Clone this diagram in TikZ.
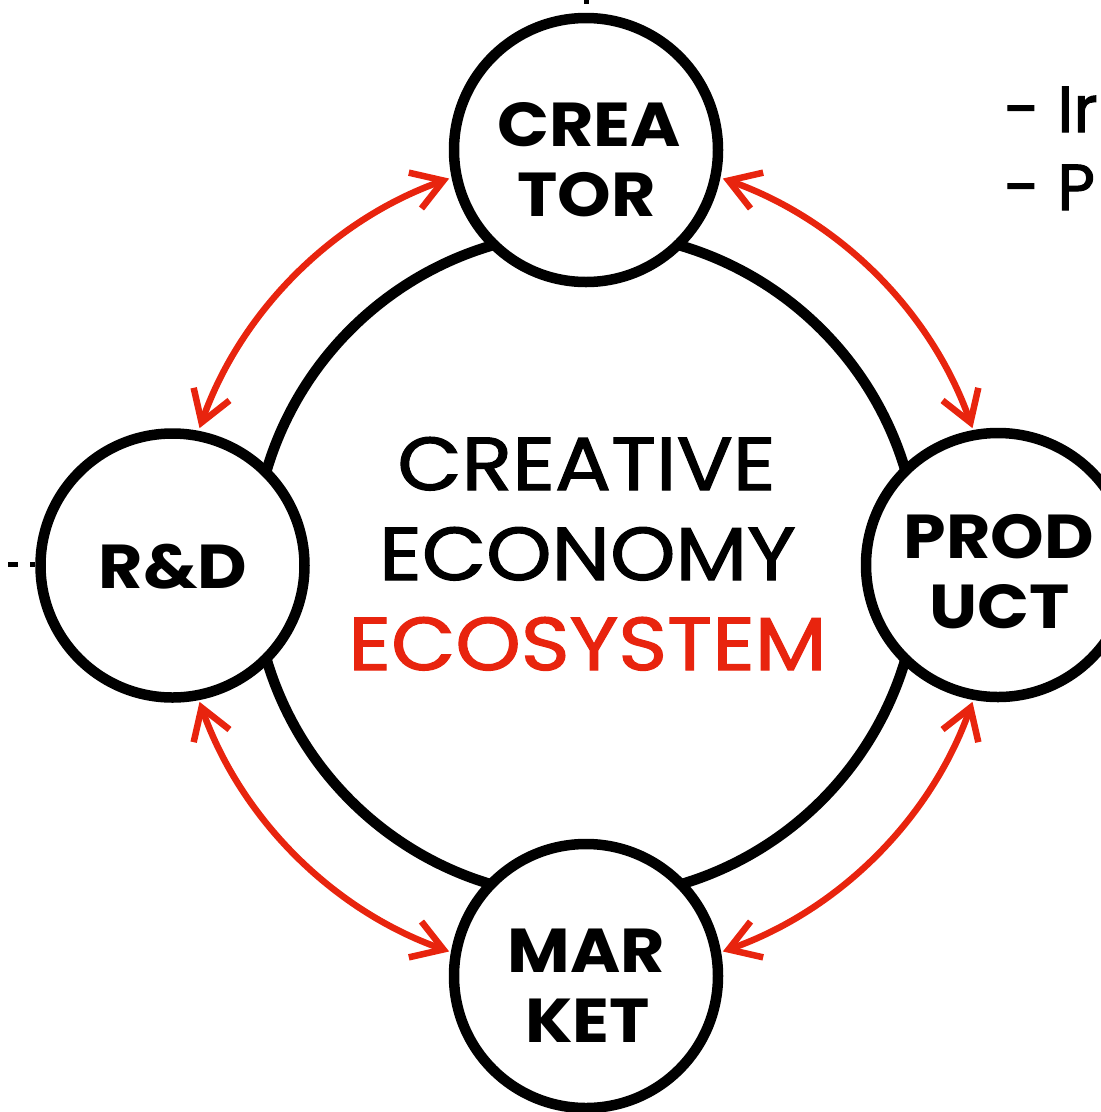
\documentclass[tikz,border=0pt]{standalone}
\usepackage{fontspec}
\setmainfont{Poppins}[FakeStretch=1.10]
\newfontfamily\regf{Poppins}[FakeStretch=1.11,FakeBold=1.6]
\newfontfamily\sidef{Poppins}[FakeBold=1.6]
\usetikzlibrary{arrows.meta}
\definecolor{ecored}{RGB}{232,36,14}
\begin{document}
\begin{tikzpicture}[x=1pt,y=-1pt,
  ring/.style={draw=black,line width=10.5pt},
  hub/.style={circle,draw=black,line width=10.5pt,fill=white,minimum size=264pt,inner sep=0pt},
  link/.style={draw=ecored,line width=6.5pt,{Straight Barb[length=30pt,width=38pt]}-{Straight Barb[length=30pt,width=38pt]}},
  lbl/.style={font=\bfseries\fontsize{62}{62}\selectfont,anchor=base},
  big/.style={font=\regf\fontsize{75}{75}\selectfont,anchor=base},
  side/.style={font=\sidef\fontsize{65}{65}\selectfont,anchor=base west,inner sep=0pt},
  tick/.style={draw=black,line width=5pt,dash pattern=on 10pt off 12pt}]
\useasboundingbox (0,0) rectangle (1101,1112);
\clip (0,0) rectangle (1101,1112);
\coordinate (c) at (586,565);
\draw[ring] (c) circle[radius=333];
\coordinate (topend) at (586,-50);
\coordinate (leftend) at (-14,564.5);
\node[hub] (crea) at (586,150) {};
\node[hub] (rd) at (172.5,565.5) {};
\node[hub] (prod) at (998,565) {};
\node[hub] (mkt) at (586,976) {};
\draw[tick] (topend) -- (586,13);
\draw[tick] (leftend) -- (35,564.5);
\draw[link] ([shift={(250.5:410)}]c) arc[start angle=250.5, end angle=199.5, radius=410];
\draw[link] ([shift={(289.5:410)}]c) arc[start angle=289.5, end angle=340.5, radius=410];
\draw[link] ([shift={(19.5:410)}]c) arc[start angle=19.5, end angle=70.5, radius=410];
\draw[link] ([shift={(109.5:410)}]c) arc[start angle=109.5, end angle=160.5, radius=410];
\node[lbl] (l1) at (589,146) {CREA};
\node[lbl] (l2) at (586.5,216) {TOR};
\node[lbl] (l3) at (173,588) {R\&D};
\node[lbl] (l4) at (999,558) {PROD};
\node[lbl] (l5) at (1000,628) {UCT};
\node[lbl] (l6) at (586.5,972) {MAR};
\node[lbl] (l7) at (587.5,1042) {KET};
\node[big] (m1) at (586.5,490) {CREATIVE};
\node[big] (m2) at (587.5,580) {ECONOMY};
\node[big,text=ecored] (m3) at (587.5,670) {ECOSYSTEM};
\node[side] (s1) at (1004,132) {- Ir};
\node[side] (s2) at (1004,210) {- P};
\end{tikzpicture}
\end{document}
